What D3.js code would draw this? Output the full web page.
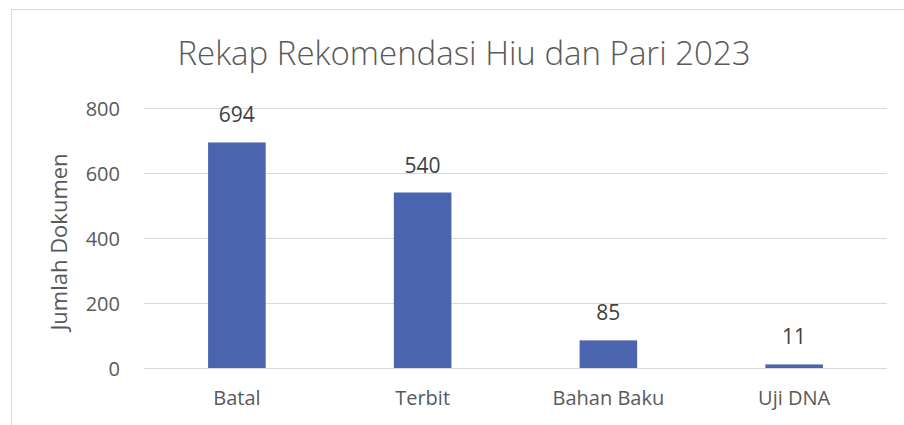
<!DOCTYPE html>
<html>
<head>
<meta charset="utf-8">
<script src="https://cdn.jsdelivr.net/npm/d3@7"></script>
<style>
  body { margin: 0; background: #fff; }
  text { font-family: "Open Sans", sans-serif; }
</style>
</head>
<body>
<svg id="chart" width="904" height="425"></svg>
<script>
var categories = ["Batal", "Terbit", "Bahan Baku", "Uji DNA"];
var values = [694, 540, 85, 11];
var yTicks = [0, 200, 400, 600, 800];
var chartTitle = "Rekap Rekomendasi Hiu dan Pari 2023";
var yTitle = "Jumlah Dokumen";

var svg = d3.select("svg#chart"),
	margin = { top: 108, right: 17, bottom: 57, left: 144 },
	width = svg.attr("width") - margin.left - margin.right,
	height = svg.attr("height") - margin.top - margin.bottom;

// outer chart border (chart area continues past the bottom edge)
svg.append("rect")
	.attr("x", 11.5).attr("y", 9.5)
	.attr("width", 920).attr("height", 440)
	.attr("fill", "none")
	.attr("stroke", "#d9d9d9");

var g = svg.append("g").attr("transform", "translate(" + margin.left + "," + margin.top + ")");

var x = d3.scaleBand().domain(categories).range([0, width]).paddingInner(0.69).paddingOuter(0.345);
var y = d3.scaleLinear().domain([0, 800]).range([height, 0]);

// gridlines
g.selectAll("line.grid")
	.data(yTicks)
	.enter().append("line")
	.attr("class", "grid")
	.attr("x1", 0).attr("x2", width)
	.attr("y1", function (d) { return Math.round(y(d)) + 0.5; })
	.attr("y2", function (d) { return Math.round(y(d)) + 0.5; })
	.attr("stroke", "#d9d9d9")
	.attr("stroke-width", 1);

// bars
g.selectAll("rect.bar")
	.data(values)
	.enter().append("rect")
	.attr("class", "bar")
	.attr("x", function (d, i) { return x(categories[i]); })
	.attr("y", function (d) { return y(d); })
	.attr("width", x.bandwidth())
	.attr("height", function (d) { return height - y(d); })
	.attr("fill", "#4a65ae");

// data labels
g.selectAll("text.label")
	.data(values)
	.enter().append("text")
	.attr("class", "label")
	.attr("x", function (d, i) { return x(categories[i]) + x.bandwidth() / 2; })
	.attr("y", function (d) { return y(d) - 20; })
	.attr("text-anchor", "middle")
	.attr("font-size", "21px")
	.attr("fill", "#404040")
	.text(function (d) { return d; });

// y axis
var yAxis = g.append("g")
	.call(d3.axisLeft(y).tickValues(yTicks).tickSize(0).tickPadding(24));
yAxis.select(".domain").remove();
yAxis.selectAll("text")
	.attr("font-size", "20px")
	.attr("font-family", "Open Sans, sans-serif")
	.attr("fill", "#595959")
	.attr("dy", "0.35em");

// x axis
var xAxis = g.append("g")
	.attr("transform", "translate(0," + height + ")")
	.call(d3.axisBottom(x).tickSize(0).tickPadding(23));
xAxis.select(".domain").remove();
xAxis.selectAll("text")
	.attr("font-size", "20px")
	.attr("font-family", "Open Sans, sans-serif")
	.attr("fill", "#595959");

// y axis title
svg.append("text")
	.attr("transform", "translate(67,242) rotate(-90)")
	.attr("text-anchor", "middle")
	.attr("font-size", "22px")
	.attr("fill", "#595959")
	.text(yTitle);

// chart title
svg.append("text")
	.attr("x", 464)
	.attr("y", 65)
	.attr("text-anchor", "middle")
	.attr("font-size", "33px")
	.attr("font-weight", 300)
	.attr("fill", "#595959")
	.text(chartTitle);
</script>
</body>
</html>
